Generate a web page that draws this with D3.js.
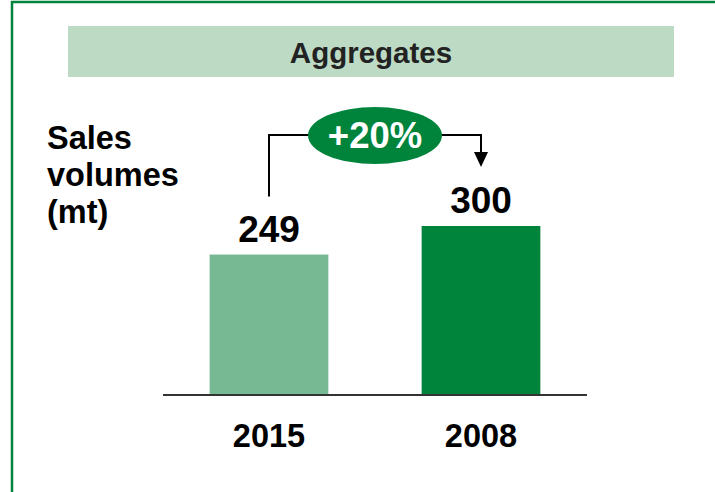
<!DOCTYPE html>
<html>
<head>
<meta charset="utf-8">
<script src="https://cdn.jsdelivr.net/npm/d3@7"></script>
<style>
  html, body { margin: 0; padding: 0; background: #fff; }
  svg { display: block; font-family: Arial, "Liberation Sans", Helvetica, sans-serif; }
</style>
</head>
<body>
<svg id="chart" width="715" height="492"></svg>
<script>
//*************************************************
// Data
//*************************************************
var categories = ['2015', '2008'];
var values = [249, 300];
var barColors = ['#76b993', '#00843c'];
var titleText = 'Aggregates';
var axisTitleLines = ['Sales', 'volumes', '(mt)'];
var changeLabel = '+20%';

//*************************************************
// Layout
//*************************************************
var _width = 715;
var _height = 492;
var _green = '#00843c';

var svg = d3.select('#chart');

// frame (top + left edges visible, rest runs off the picture)
svg.append('rect')
    .attr('x', 12).attr('y', 2)
    .attr('width', _width + 20).attr('height', _height + 20)
    .attr('fill', 'none')
    .attr('stroke', _green)
    .attr('stroke-width', 2.5);

// title band
svg.append('rect')
    .attr('x', 68).attr('y', 26)
    .attr('width', 606).attr('height', 51)
    .attr('fill', '#bddbc4');
svg.append('text')
    .attr('x', 371).attr('y', 63)
    .attr('text-anchor', 'middle')
    .attr('font-size', 29.5).attr('font-weight', 'bold')
    .attr('fill', '#222')
    .text(titleText);

// scales
var x = d3.scaleBand()
    .domain(categories)
    .range([163, 587])
    .paddingInner(0.44)
    .paddingOuter(0.22);

var y = d3.scaleLinear()
    .domain([0, 300])
    .range([394, 226]);

// bars
svg.selectAll('.bar').data(values).enter().append('rect')
    .attr('class', 'bar')
    .attr('x', function (d, i){ return x(categories[i]); })
    .attr('y', function (d){ return y(d); })
    .attr('width', x.bandwidth())
    .attr('height', function (d){ return y(0) - y(d); })
    .attr('fill', function (d, i){ return barColors[i]; });

// baseline
svg.append('line')
    .attr('x1', 163).attr('x2', 587)
    .attr('y1', y(0) + 1).attr('y2', y(0) + 1)
    .attr('stroke', '#333').attr('stroke-width', 2);

// value labels
svg.selectAll('.val').data(values).enter().append('text')
    .attr('class', 'val')
    .attr('x', function (d, i){ return x(categories[i]) + x.bandwidth() / 2; })
    .attr('y', function (d){ return y(d) - 13; })
    .attr('text-anchor', 'middle')
    .attr('font-size', 37).attr('font-weight', 'bold')
    .attr('fill', '#000')
    .text(function (d){ return d; });

// category labels
var xAxis = d3.axisBottom(x).tickSize(0).tickPadding(0);
var gx = svg.append('g')
    .attr('transform', 'translate(0,' + y(0) + ')')
    .call(xAxis);
gx.select('.domain').remove();
gx.selectAll('text')
    .attr('dy', null)
    .attr('y', 53)
    .attr('font-size', 32.5).attr('font-weight', 'bold')
    .attr('font-family', 'Arial, "Liberation Sans", sans-serif')
    .attr('fill', '#000');

// axis title
svg.append('text')
    .attr('x', 47).attr('y', 149)
    .attr('font-size', 32.5).attr('font-weight', 'bold')
    .attr('fill', '#000')
    .selectAll('tspan').data(axisTitleLines).enter().append('tspan')
    .attr('x', 47)
    .attr('dy', function (d, i){ return i === 0 ? 0 : 37; })
    .text(function (d){ return d; });

// growth connector
var x1 = x(categories[0]) + x.bandwidth() / 2;
var x2 = x(categories[1]) + x.bandwidth() / 2;
var cy = 135;
var mid = (x1 + x2) / 2;
svg.append('path')
    .attr('d', 'M' + x1 + ',' + (y(values[0]) - 58) + 'V' + cy + 'H' + x2 + 'V' + 154)
    .attr('fill', 'none')
    .attr('stroke', '#000')
    .attr('stroke-width', 2);
svg.append('path')
    .attr('d', 'M' + (x2 - 7) + ',152L' + (x2 + 7) + ',152L' + x2 + ',167Z')
    .attr('fill', '#000');
svg.append('ellipse')
    .attr('cx', mid).attr('cy', cy + 0.5)
    .attr('rx', 67).attr('ry', 28.5)
    .attr('fill', _green);
svg.append('text')
    .attr('x', mid).attr('y', 148)
    .attr('text-anchor', 'middle')
    .attr('font-size', 36.5).attr('font-weight', 'bold')
    .attr('fill', '#fff')
    .text(changeLabel);
</script>
</body>
</html>
